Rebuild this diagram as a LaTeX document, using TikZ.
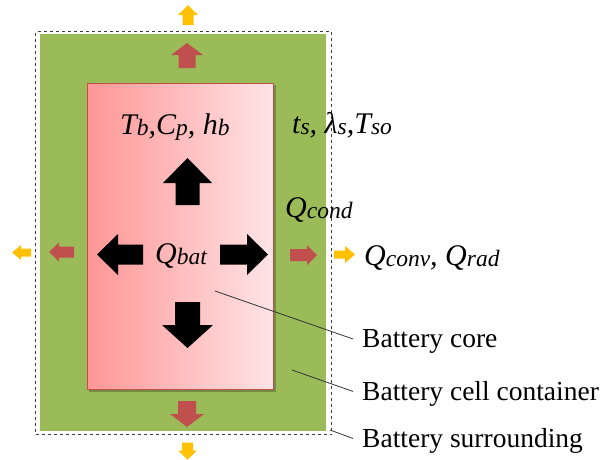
\documentclass[tikz,border=0pt]{standalone}
\usepackage{fontspec}
\setmainfont{Liberation Serif}
\usetikzlibrary{calc}
\definecolor{cgreen}{RGB}{155,187,89}
\definecolor{cred}{RGB}{192,80,77}
\definecolor{cyel}{RGB}{255,192,0}
\definecolor{pinkL}{RGB}{255,150,150}
\definecolor{pinkR}{RGB}{255,228,230}
\definecolor{dashgray}{RGB}{60,60,60}
\newcommand\barrow[8]{%
  \fill[#8,shift={(#1,#2)},rotate=#3]
    (-#4/2,-#6/2) -- (#4/2-#7,-#6/2) -- (#4/2-#7,-#5/2) -- (#4/2,0)
    -- (#4/2-#7,#5/2) -- (#4/2-#7,#6/2) -- (-#4/2,#6/2) -- cycle;}
\newcommand\sbx[1]{\raisebox{-1pt}{\fontsize{23.5}{24}\selectfont #1}}
\tikzset{
  mathlbl/.style={inner sep=0pt,anchor=base west,font=\fontsize{30}{31}\selectfont\itshape},
  txtlbl/.style={inner sep=0pt,anchor=base west,font=\fontsize{27.5}{30}\selectfont},
  leader/.style={draw=black!80,line width=0.8pt}
}
\begin{document}
\begin{tikzpicture}[x=1pt,y=-1pt]
\useasboundingbox (0,0) rectangle (601,459);
% surrounding (dashed)
\node[draw=dashgray,dashed,line width=1pt,inner sep=0pt,minimum width=296pt,minimum height=403pt,anchor=north west] (sur) at (35,31) {};
% container
\node[fill=cgreen,inner sep=0pt,minimum width=286pt,minimum height=397pt,anchor=north west] (cont) at (40,34) {};
% shadow of core
\fill[black,opacity=0.25] (89,85) rectangle (276,392);
% core
\node[draw=cred,line width=0.8pt,left color=pinkL,right color=pinkR,inner sep=0pt,minimum width=186pt,minimum height=306pt,anchor=north west] (core) at (87,83) {};
% red arrows
\barrow{187}{55.5}{90}{25}{32}{17}{12}{cred}
\barrow{187}{414}{270}{26}{34}{18}{13}{cred}
\barrow{61.5}{252}{180}{25}{19}{11}{10}{cred}
\barrow{303.5}{255}{0}{27}{20}{12}{10}{cred}
% yellow arrows
\barrow{188}{15}{90}{20}{20}{11}{10}{cyel}
\barrow{187.5}{451}{270}{17}{19}{11}{9}{cyel}
\barrow{21.5}{252.5}{180}{19}{15}{8}{9}{cyel}
\barrow{344.5}{254.5}{0}{21}{17}{8}{10}{cyel}
% black arrows
\barrow{187.5}{181.5}{90}{47}{49}{24}{25}{black}
\barrow{187.5}{325}{270}{46}{51}{25}{23}{black}
\barrow{120}{254.5}{180}{46}{41}{20}{21}{black}
\barrow{244}{254.5}{0}{48}{41}{20}{21}{black}
% math labels
\node[mathlbl] (tb) at (120,134) {T\sbx{b},C\sbx{p}, h\sbx{b}};
\node[mathlbl] (ts) at (292,133) {t\sbx{s}, λ\sbx{s},T\sbx{so}};
\node[mathlbl] (qcond) at (285,217) {Q\sbx{cond}};
\node[mathlbl] (qbat) at (155,263) {Q\sbx{bat}};
\node[mathlbl] (qconv) at (364,265) {Q\sbx{conv}, Q\sbx{rad}};
% text labels
\node[txtlbl] (lcore) at (362,347) {Battery core};
\node[txtlbl] (lcont) at (362,400) {Battery cell container};
\node[txtlbl] (lsur) at (362,447) {Battery surrounding};
% leaders
\coordinate (pcore) at (215,291);
\coordinate (pcont) at (292,370);
\coordinate (psur) at (330,430);
\draw[leader] (pcore) -- ([xshift=-9pt,yshift=2pt]lcore.west);
\draw[leader] (pcont) -- ([xshift=-9pt,yshift=2pt]lcont.west);
\draw[leader] (psur) -- ([xshift=-9pt,yshift=2pt]lsur.west);
\end{tikzpicture}
\end{document}
